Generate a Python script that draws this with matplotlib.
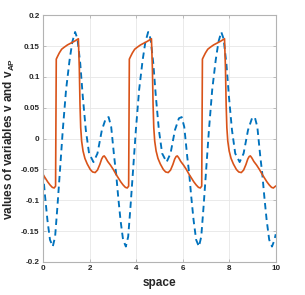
import matplotlib
matplotlib.use('Agg')
import matplotlib.pyplot as plt

plt.rcParams['font.family'] = ['Liberation Sans', 'DejaVu Sans']
plt.rcParams['font.weight'] = 'bold'
plt.rcParams['mathtext.fontset'] = 'custom'
plt.rcParams['mathtext.bf'] = 'Liberation Sans:bold'
plt.rcParams['mathtext.rm'] = 'Liberation Sans:bold'

# v (blue, dashed)
x_v = [0.00, 0.09, 0.19, 0.30, 0.42, 0.52, 0.62, 0.73, 0.85, 0.99, 1.14, 1.26, 1.38, 1.48,
       1.60, 1.71, 1.84, 1.98, 2.17, 2.34, 2.53, 2.70, 2.82, 2.93, 3.06,
       3.14, 3.23, 3.33, 3.44, 3.56, 3.66, 3.76, 3.87, 3.99, 4.13, 4.28, 4.40, 4.52, 4.62,
       4.74, 4.85, 4.98, 5.12, 5.31, 5.48, 5.67, 5.84, 5.96, 6.07, 6.20,
       6.28, 6.37, 6.47, 6.58, 6.70, 6.80, 6.90, 7.01, 7.13, 7.27, 7.42, 7.54, 7.66, 7.76,
       7.88, 7.99, 8.12, 8.26, 8.45, 8.62, 8.81, 8.98, 9.10, 9.21, 9.34,
       9.42, 9.51, 9.61, 9.72, 9.84, 9.94, 10.0]
v = [-0.056, -0.094, -0.132, -0.164, -0.175, -0.159, -0.110, -0.051, 0.014, 0.079, 0.127, 0.157, 0.173, 0.162,
     0.122, 0.068, 0.014, -0.024, -0.038, -0.024, 0.014, 0.033, 0.035, 0.019, -0.030,
     -0.056, -0.094, -0.132, -0.164, -0.175, -0.159, -0.110, -0.051, 0.014, 0.079, 0.127, 0.157, 0.173, 0.162,
     0.122, 0.068, 0.014, -0.024, -0.038, -0.024, 0.014, 0.033, 0.035, 0.019, -0.030,
     -0.056, -0.094, -0.132, -0.164, -0.175, -0.159, -0.110, -0.051, 0.014, 0.079, 0.127, 0.157, 0.173, 0.162,
     0.122, 0.068, 0.014, -0.024, -0.038, -0.024, 0.014, 0.033, 0.035, 0.019, -0.030,
     -0.056, -0.094, -0.132, -0.164, -0.175, -0.165, -0.155]

# v_AP (orange, solid)
x_ap = [0.00, 0.10, 0.20, 0.30, 0.40, 0.48, 0.54, 0.57, 0.62, 0.70, 0.80, 0.90, 1.05, 1.20, 1.35, 1.52,
        1.56, 1.59, 1.62, 1.66, 1.72, 1.80, 1.90, 2.03, 2.13, 2.24, 2.34, 2.44, 2.52, 2.58, 2.63, 2.69, 2.78, 2.90, 3.02,
        3.14, 3.24, 3.34, 3.44, 3.54, 3.62, 3.68, 3.71, 3.76, 3.84, 3.94, 4.04, 4.19, 4.34, 4.49, 4.66,
        4.70, 4.73, 4.76, 4.80, 4.86, 4.94, 5.04, 5.17, 5.27, 5.38, 5.48, 5.58, 5.66, 5.72, 5.77, 5.83, 5.92, 6.04, 6.16,
        6.28, 6.38, 6.48, 6.58, 6.68, 6.76, 6.82, 6.85, 6.90, 6.98, 7.08, 7.18, 7.33, 7.48, 7.63, 7.80,
        7.84, 7.87, 7.90, 7.94, 8.00, 8.08, 8.18, 8.31, 8.41, 8.52, 8.62, 8.72, 8.80, 8.86, 8.91, 8.97, 9.06, 9.18, 9.30,
        9.42, 9.52, 9.62, 9.72, 9.82, 9.90, 9.96, 10.0]
v_ap = [-0.058, -0.064, -0.070, -0.075, -0.079, -0.080, -0.077, 0.129, 0.133, 0.139, 0.145, 0.148, 0.152, 0.155, 0.158, 0.162,
        0.115, 0.055, 0.018, -0.004, -0.020, -0.032, -0.041, -0.050, -0.054, -0.055, -0.051, -0.042, -0.033, -0.029, -0.028, -0.031, -0.037, -0.043, -0.050,
        -0.058, -0.064, -0.070, -0.075, -0.079, -0.080, -0.077, 0.129, 0.133, 0.139, 0.145, 0.148, 0.152, 0.155, 0.158, 0.162,
        0.115, 0.055, 0.018, -0.004, -0.020, -0.032, -0.041, -0.050, -0.054, -0.055, -0.051, -0.042, -0.033, -0.029, -0.028, -0.031, -0.037, -0.043, -0.050,
        -0.058, -0.064, -0.070, -0.075, -0.079, -0.080, -0.077, 0.129, 0.133, 0.139, 0.145, 0.148, 0.152, 0.155, 0.158, 0.162,
        0.115, 0.055, 0.018, -0.004, -0.020, -0.032, -0.041, -0.050, -0.054, -0.055, -0.051, -0.042, -0.033, -0.029, -0.028, -0.031, -0.037, -0.043, -0.050,
        -0.058, -0.064, -0.070, -0.075, -0.079, -0.080, -0.078, -0.077]

xticks = [0, 2, 4, 6, 8, 10]
yticks = [-0.2, -0.15, -0.1, -0.05, 0, 0.05, 0.1, 0.15, 0.2]
yticklabels = ['-0.2', '-0.15', '-0.1', '-0.05', '0', '0.05', '0.1', '0.15', '0.2']

fig = plt.figure(figsize=(3.05, 2.95), dpi=100)
ax = fig.add_axes([0.141, 0.112, 0.763, 0.836])

ax.plot(x_v, v, color='#0072BD', lw=1.35, linestyle=(0, (3.4, 2.3)))
ax.plot(x_ap, v_ap, color='#D95319', lw=1.2)

ax.set_xlim(0, 10)
ax.set_ylim(-0.2, 0.2)
ax.set_xticks(xticks)
ax.set_yticks(yticks)
ax.set_yticklabels(yticklabels)
ax.grid(True, color='#e6e6e6', lw=0.6)
ax.set_axisbelow(True)
for s in ax.spines.values():
    s.set_color('#b3b3b3')
    s.set_linewidth(0.8)
ax.tick_params(direction='in', length=2, width=0.6, color='#b3b3b3',
               labelsize=5.8, labelcolor='#262626', pad=2.5, right=True, top=True)
for lab in ax.get_xticklabels() + ax.get_yticklabels():
    lab.set_fontweight('bold')

ax.set_xlabel('space', fontsize=8.5, fontweight='bold', color='#262626', labelpad=3)
ax.set_ylabel(r'values of variables v and v$_\mathbf{AP}$', fontsize=8.5,
              fontweight='bold', color='#262626', labelpad=3)

fig.savefig('out.png', dpi=100)
